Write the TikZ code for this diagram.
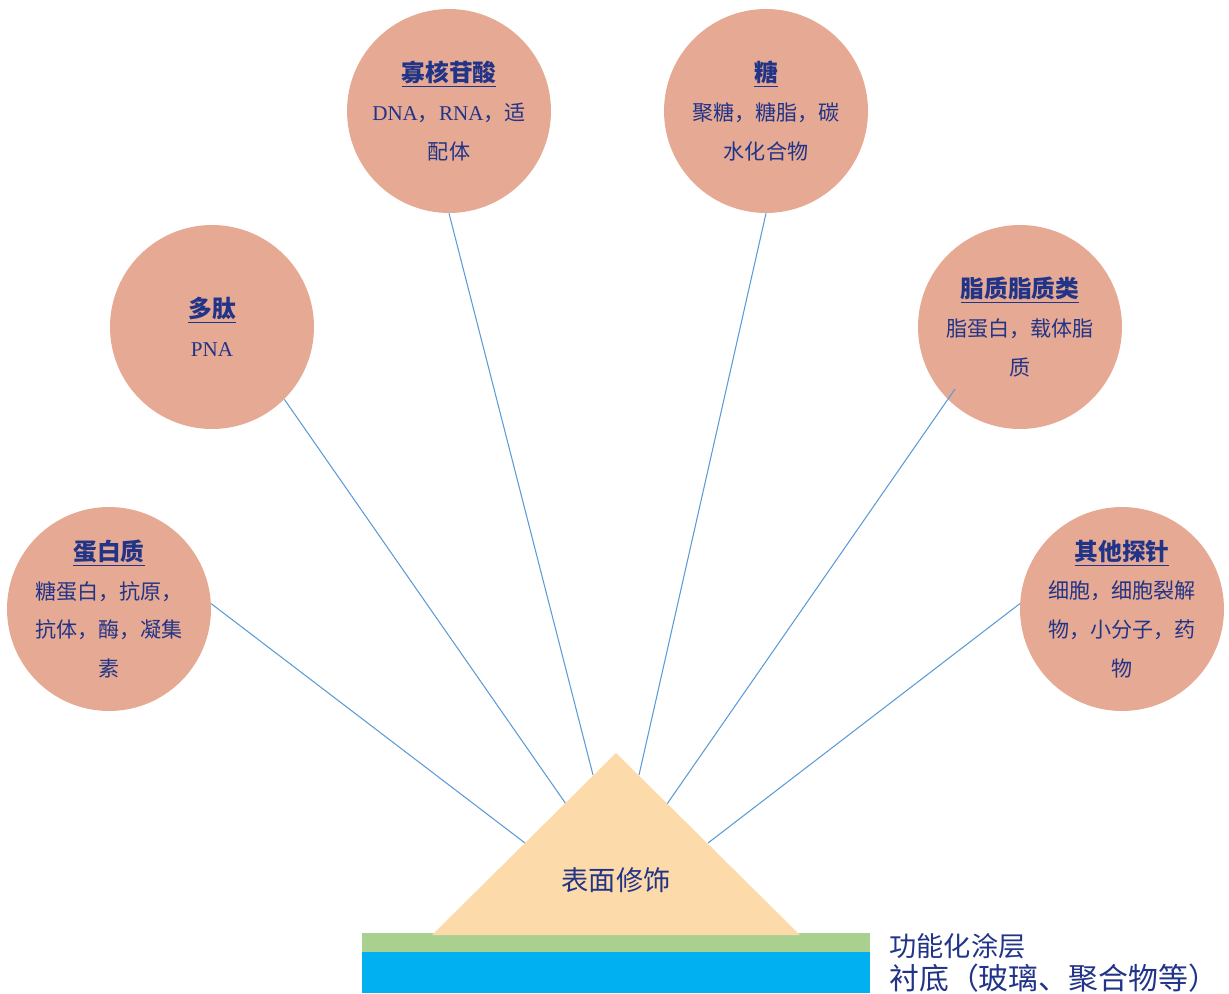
\documentclass[tikz,border=0pt]{standalone}
\usepackage{fontspec}
\setmainfont{Liberation Serif}
\newfontfamily\cjk{Noto Sans CJK SC}
\usetikzlibrary{positioning}
\definecolor{circfill}{RGB}{229,169,148}
\definecolor{navy}{RGB}{33,52,135}
\definecolor{linkblue}{RGB}{91,155,213}
\definecolor{peach}{RGB}{253,218,169}
\definecolor{coatgreen}{RGB}{169,208,142}
\definecolor{substblue}{RGB}{0,176,240}
\newcommand{\probetitle}[1]{{\fontsize{13.5}{22}\selectfont\bfseries\underline{#1}}}

\begin{document}
\begin{tikzpicture}[x=0.02cm,y=-0.02cm,
    probe node/.style={circle,fill=circfill,minimum size=4.08cm,inner sep=0pt,text=navy,align=center,
      font=\cjk\fontsize{12}{22}\selectfont},
    label node/.style={text=navy,inner sep=0pt,font=\cjk\fontsize{15.5}{18}\selectfont},
    link/.style={-,draw=linkblue,line width=0.6pt}]
   \useasboundingbox (0,0) rectangle (1229,993);
   \begin{scope}
     % probe circles
     \node[probe node] (protein) at (109,609) {\probetitle{蛋白质}\\糖蛋白，抗原，\\抗体，酶，凝集\\素};
     \node[probe node] (peptide) at (212,327) {\probetitle{多肽}\\{\rmfamily PNA}};
     \node[probe node] (oligo) at (449,111) {\probetitle{寡核苷酸}\\{\rmfamily DNA}，{\rmfamily RNA}，适\\配体};
     \node[probe node] (sugar) at (766,111) {\probetitle{糖}\\聚糖，糖脂，碳\\水化合物};
     \node[probe node] (lipid) at (1020,327) {\probetitle{脂质脂质类}\\脂蛋白，载体脂\\质};
     \node[probe node] (other) at (1122,609) {\probetitle{其他探针}\\细胞，细胞裂解\\物，小分子，药\\物};
     % ends of the links on the triangle
     \coordinate (apex) at (616,753);
     \coordinate (baseL) at (432,935);
     \coordinate (baseR) at (800,935);
     \coordinate (e1) at (525,843);
     \coordinate (e2) at (566,804);
     \coordinate (e3) at (593,775);
     \coordinate (e4) at (639,775);
     \coordinate (e5) at (667,804);
     \coordinate (e6) at (708,843);
     \coordinate (s5) at (955,389);
      \path[link] (protein.3) edge (e1);
      \path[link] (peptide.-45) edge (e2);
      \path[link] (oligo.south) edge (e3);
      \path[link] (sugar.south) edge (e4);
      \path[link] (s5) edge (e5);
      \path[link] (other.177) edge (e6);
     % substrate and coating
     \fill[substblue] (362,952) rectangle (870,993);
     \fill[coatgreen] (362,933) rectangle (870,952);
     \fill[peach] (apex) -- (baseL) -- (baseR) -- cycle;
     \node[label node] (surface) at (616,880) {表面修饰};
     \node[label node,anchor=west] (coat) at (889,946) {功能化涂层};
     \node[label node,anchor=west,font=\cjk\fontsize{17}{18}\selectfont] (subst) at (889,978) {衬底（玻璃、聚合物等）};
   \end{scope}
\end{tikzpicture}
\end{document}
